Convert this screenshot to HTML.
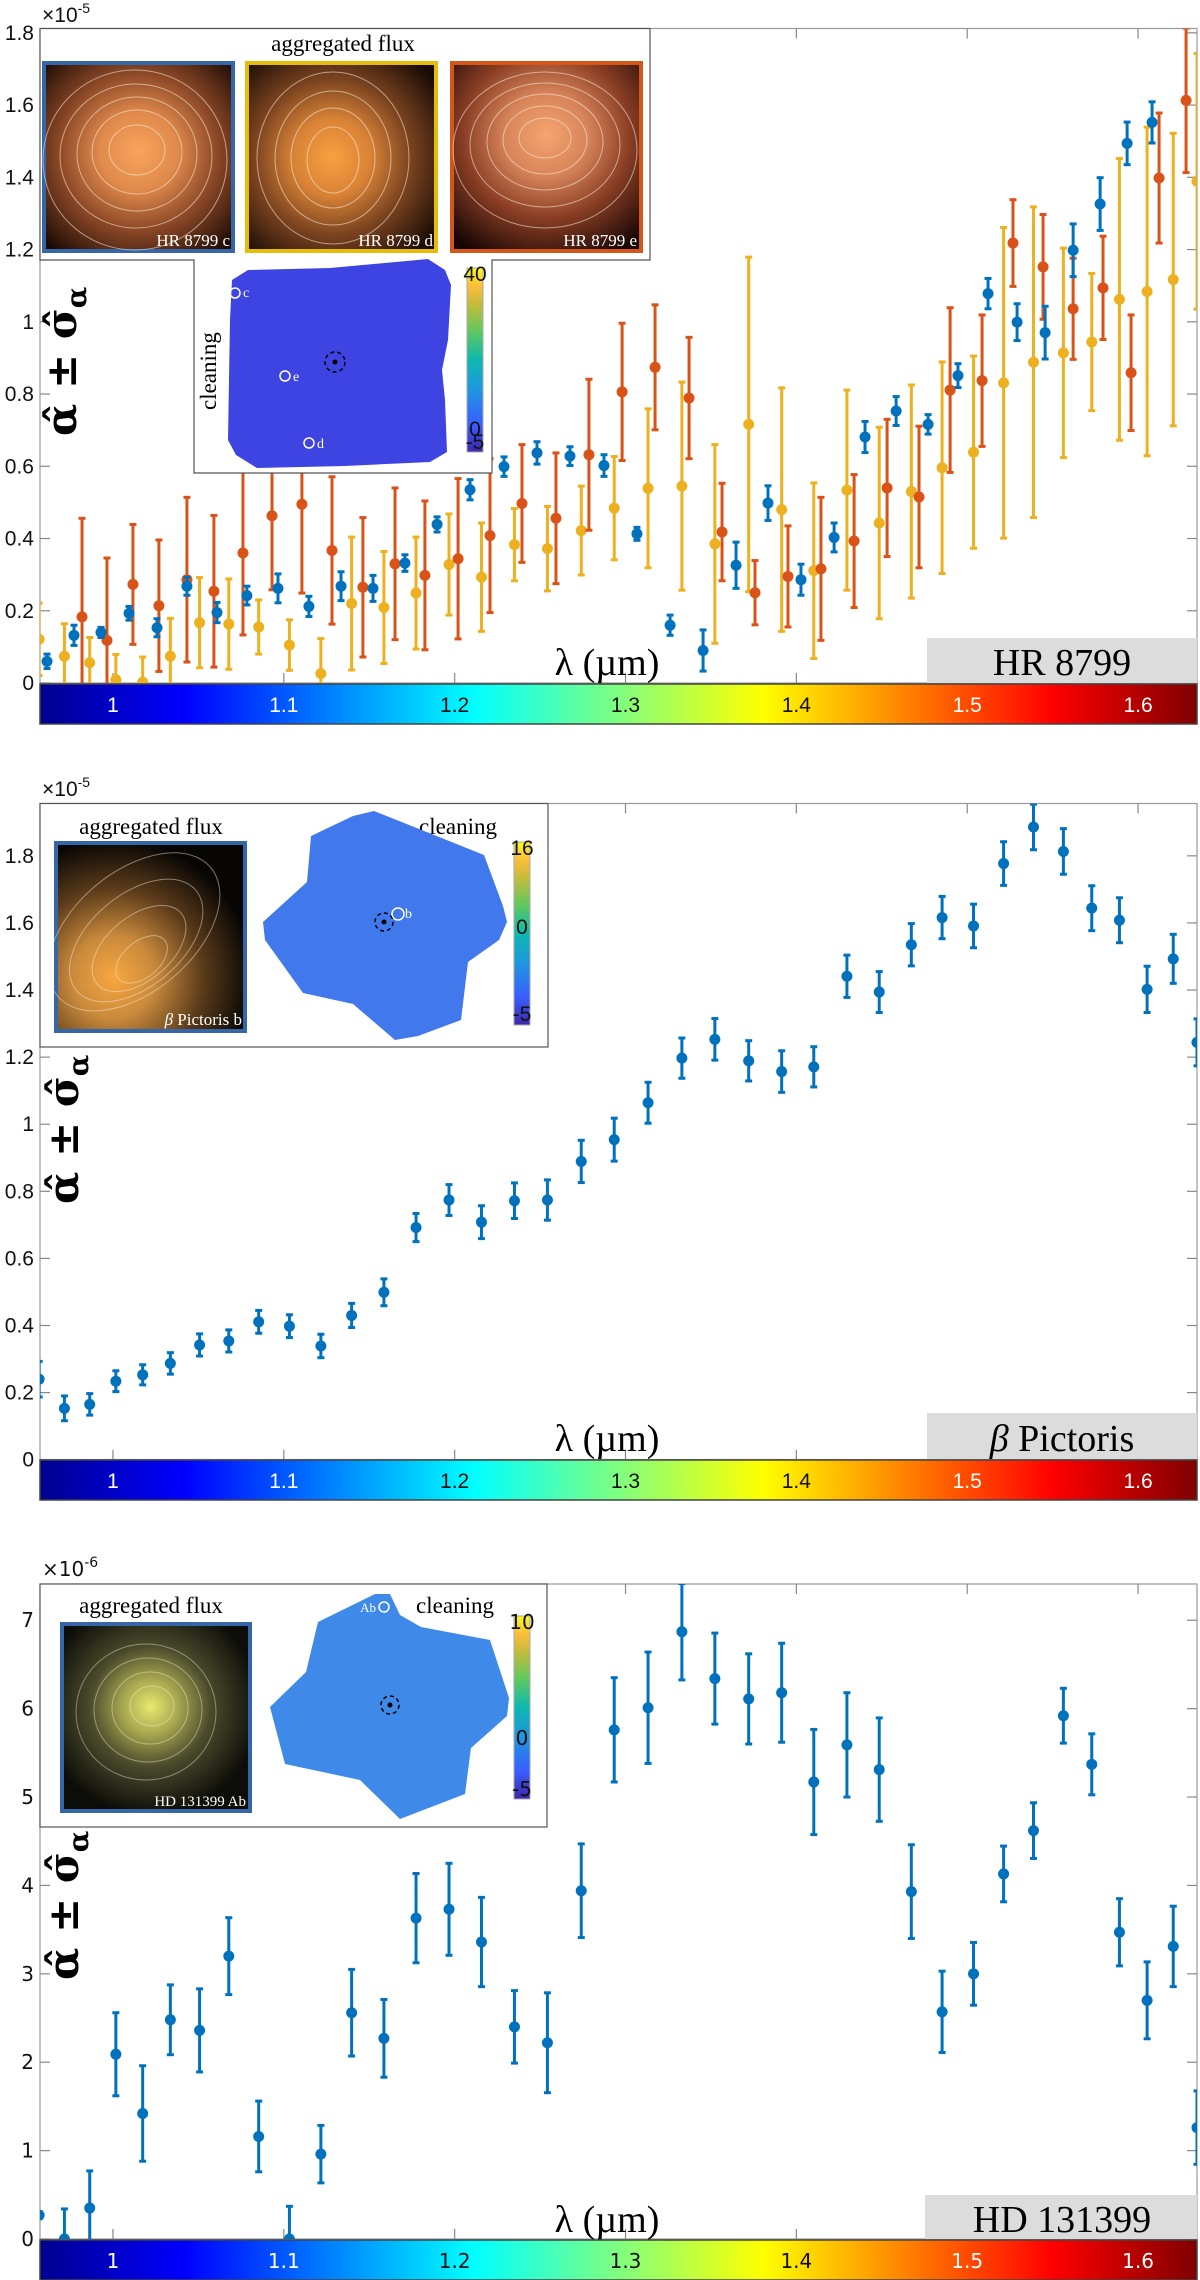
<!DOCTYPE html>
<html><head><meta charset="utf-8"><style>
html,body{margin:0;padding:0;background:#fff;}
svg{display:block;}
.tk{font-family:"Liberation Sans",sans-serif;font-size:21px;fill:#111;}
.tk3{font-family:"DejaVu Sans",sans-serif;font-size:20px;fill:#111;}
.sr{font-family:"Liberation Serif","DejaVu Serif",serif;}
</style></head><body>
<svg id="fig" width="1200" height="2280" viewBox="0 0 1200 2280" xmlns="http://www.w3.org/2000/svg">
<defs>
<linearGradient id="jet" x1="0" y1="0" x2="1" y2="0">
<stop offset="0" stop-color="#00008f"/><stop offset="0.125" stop-color="#0000ff"/><stop offset="0.375" stop-color="#00ffff"/><stop offset="0.625" stop-color="#ffff00"/><stop offset="0.875" stop-color="#ff0000"/><stop offset="1" stop-color="#800000"/>
</linearGradient>
<linearGradient id="parula" x1="0" y1="1" x2="0" y2="0">
<stop offset="0" stop-color="#3d26a8"/><stop offset="0.15" stop-color="#3a5efe"/><stop offset="0.35" stop-color="#1d99de"/><stop offset="0.5" stop-color="#0db8b0"/><stop offset="0.65" stop-color="#5cc862"/><stop offset="0.8" stop-color="#c3bc3a"/><stop offset="0.9" stop-color="#fbbc3c"/><stop offset="1" stop-color="#f9fb15"/>
</linearGradient>
<radialGradient id="glowC" cx="0.5" cy="0.47" r="0.7"><stop offset="0" stop-color="#f8a45c"/><stop offset="0.3" stop-color="#e08a4c"/><stop offset="0.6" stop-color="#8f4a28"/><stop offset="1" stop-color="#1c0a04"/></radialGradient>
<radialGradient id="glowD" cx="0.45" cy="0.5" r="0.7"><stop offset="0" stop-color="#f8a040"/><stop offset="0.3" stop-color="#d88236"/><stop offset="0.6" stop-color="#7c4420"/><stop offset="1" stop-color="#160904"/></radialGradient>
<radialGradient id="glowE" cx="0.5" cy="0.38" r="0.75"><stop offset="0" stop-color="#f7a470"/><stop offset="0.3" stop-color="#d7845a"/><stop offset="0.6" stop-color="#8a3e24"/><stop offset="1" stop-color="#140404"/></radialGradient>
<radialGradient id="glowB" cx="0.3" cy="0.72" r="0.75"><stop offset="0" stop-color="#f8a640"/><stop offset="0.3" stop-color="#c98a3c"/><stop offset="0.65" stop-color="#5a3a1a"/><stop offset="1" stop-color="#080604"/></radialGradient>
<radialGradient id="glowH" cx="0.47" cy="0.44" r="0.6"><stop offset="0" stop-color="#e8e870"/><stop offset="0.25" stop-color="#a8a850"/><stop offset="0.55" stop-color="#4a4a2c"/><stop offset="1" stop-color="#0c0c08"/></radialGradient>
</defs>

<!-- ===== Panel 1 static ===== -->
<g id="p1">
<rect x="40" y="28.5" width="1157" height="654.5" fill="#fff" stroke="#999" stroke-width="1.2"/>
<g id="p1-marks"></g>
<rect x="927" y="638" width="270" height="45" fill="#dcdcdc"/>
<text font-family="Liberation Serif, DejaVu Serif, serif" x="1062" y="675" font-size="38" text-anchor="middle">HR 8799</text>
<text font-family="Liberation Serif, DejaVu Serif, serif" x="607" y="675" font-size="38" text-anchor="middle">λ (µm)</text>
<text font-family="DejaVu Serif, serif" font-weight="bold" font-size="42" transform="translate(76,436) rotate(-90)">α̂ ± σ̂<tspan font-size="28" dy="10">α</tspan></text>
<text class="tk" x="42" y="22" font-size="20">×10<tspan font-size="14" dy="-9">-5</tspan></text>
<!-- inset -->
<path d="M40,28.5 H650 V260 H492 V473 H194 V260 H40 Z" fill="#fff" stroke="#555" stroke-width="1.2"/>
<text font-family="Liberation Serif, DejaVu Serif, serif" x="343" y="51" font-size="23" text-anchor="middle">aggregated flux</text>
<g>
<rect x="42" y="61" width="193" height="192" fill="#3466a8"/><rect x="46" y="65" width="185" height="184" fill="url(#glowC)"/>
<g fill="none" stroke="rgba(255,240,220,0.55)" stroke-width="1"><ellipse cx="137" cy="150" rx="28" ry="25"/><ellipse cx="137" cy="152" rx="45" ry="42"/><ellipse cx="137" cy="154" rx="60" ry="57"/><ellipse cx="136" cy="156" rx="76" ry="72"/><ellipse cx="135" cy="160" rx="92" ry="90"/></g>
<text font-family="Liberation Serif, DejaVu Serif, serif" x="230" y="246" font-size="17" fill="#fff" text-anchor="end">HR 8799 c</text></g>
<g>
<rect x="245" y="61" width="193" height="192" fill="#e3bd0a"/><rect x="249" y="65" width="185" height="184" fill="url(#glowD)"/>
<g fill="none" stroke="rgba(255,240,220,0.55)" stroke-width="1"><ellipse cx="333" cy="160" rx="26" ry="33"/><ellipse cx="333" cy="158" rx="42" ry="50"/><ellipse cx="333" cy="158" rx="58" ry="67"/><ellipse cx="333" cy="158" rx="76" ry="86"/></g>
<text font-family="Liberation Serif, DejaVu Serif, serif" x="433" y="246" font-size="17" fill="#fff" text-anchor="end">HR 8799 d</text></g>
<g>
<rect x="450" y="61" width="193" height="192" fill="#d4571a"/><rect x="454" y="65" width="185" height="184" fill="url(#glowE)"/>
<g fill="none" stroke="rgba(255,240,220,0.55)" stroke-width="1"><ellipse cx="545" cy="138" rx="26" ry="20"/><ellipse cx="545" cy="140" rx="42" ry="34"/><ellipse cx="545" cy="142" rx="58" ry="48"/><ellipse cx="545" cy="145" rx="75" ry="62"/><ellipse cx="545" cy="150" rx="92" ry="78"/></g>
<text font-family="Liberation Serif, DejaVu Serif, serif" x="637" y="246" font-size="17" fill="#fff" text-anchor="end">HR 8799 e</text></g>
<text font-family="Liberation Serif, DejaVu Serif, serif" font-size="23" transform="translate(216,410) rotate(-90)">cleaning</text>
<polygon points="248,270 330,268 428,259 445,270 451,285 448,340 442,370 445,400 447,452 430,462 345,466 257,468 236,455 228,440 230,320 232,280" fill="#3e44e2"/>
<g fill="none" stroke="#fff" stroke-width="1.5">
<circle cx="235" cy="293" r="5"/><circle cx="285" cy="376" r="5"/><circle cx="309" cy="443" r="5"/>
<circle cx="335" cy="362" r="10" stroke="#000" stroke-dasharray="4,3"/><circle cx="335" cy="362" r="2.5" fill="#000" stroke="none"/></g>
<text font-family="Liberation Serif, DejaVu Serif, serif" x="243" y="297" font-size="14" fill="#fff">c</text><text font-family="Liberation Serif, DejaVu Serif, serif" x="293" y="381" font-size="14" fill="#fff">e</text><text font-family="Liberation Serif, DejaVu Serif, serif" x="317" y="448" font-size="14" fill="#fff">d</text>
<rect x="467" y="268" width="16" height="184" fill="url(#parula)" stroke="#aaa"/>
<text class="tk" x="475" y="281" font-size="10" text-anchor="middle">40</text><text class="tk" x="475" y="436" font-size="10" text-anchor="middle">0</text><text class="tk" x="475" y="449" font-size="10" text-anchor="middle" fill="#fff">-5</text>
<rect x="40" y="684" width="1157" height="40" fill="url(#jet)" stroke="#444" stroke-width="1.5"/>
</g>

<!-- ===== Panel 2 static ===== -->
<g id="p2">
<rect x="40" y="803.5" width="1157" height="656" fill="#fff" stroke="#999" stroke-width="1.2"/>
<g id="p2-marks"></g>
<rect x="927" y="1413" width="270" height="46" fill="#dcdcdc"/>
<text font-family="Liberation Serif, DejaVu Serif, serif" x="1062" y="1451" font-size="38" text-anchor="middle"><tspan font-style="italic">β</tspan> Pictoris</text>
<text font-family="Liberation Serif, DejaVu Serif, serif" x="607" y="1451" font-size="38" text-anchor="middle">λ (µm)</text>
<text font-family="DejaVu Serif, serif" font-weight="bold" font-size="42" transform="translate(78,1204) rotate(-90)">α̂ ± σ̂<tspan font-size="28" dy="10">α</tspan></text>
<text class="tk" x="42" y="796" font-size="20">×10<tspan font-size="14" dy="-9">-5</tspan></text>
<rect x="40" y="803.5" width="508" height="243.5" fill="#fff" stroke="#555" stroke-width="1.2"/>
<text font-family="Liberation Serif, DejaVu Serif, serif" x="151" y="834" font-size="23" text-anchor="middle">aggregated flux</text>
<g>
<rect x="54" y="841" width="193" height="192" fill="#3466a8"/><rect x="58" y="845" width="185" height="184" fill="url(#glowB)"/>
<g fill="none" stroke="rgba(255,240,220,0.45)" stroke-width="1" transform="rotate(-40 130 930)"><ellipse cx="120" cy="960" rx="30" ry="18"/><ellipse cx="125" cy="950" rx="55" ry="32"/><ellipse cx="128" cy="942" rx="78" ry="46"/><ellipse cx="132" cy="934" rx="100" ry="60"/></g>
<text font-family="Liberation Serif, DejaVu Serif, serif" x="242" y="1025" font-size="17" fill="#fff" text-anchor="end"><tspan font-style="italic">β</tspan> Pictoris b</text></g>
<text font-family="Liberation Serif, DejaVu Serif, serif" x="458" y="834" font-size="23" text-anchor="middle">cleaning</text>
<polygon points="374,811 484,855 503,906 507,922 499,940 468,962 461,1020 418,1036 395,1040 353,1004 303,993 265,940 263,922 307,882 311,836 353,816" fill="#4178ec"/>
<circle cx="398" cy="914" r="6" fill="none" stroke="#fff" stroke-width="1.5"/><text font-family="Liberation Serif, DejaVu Serif, serif" x="405" y="918" font-size="14" fill="#fff">b</text>
<circle cx="384" cy="922" r="9" fill="none" stroke="#000" stroke-width="1.5" stroke-dasharray="4,3"/><circle cx="384" cy="922" r="2.5" fill="#000"/>
<rect x="514" y="842" width="16" height="183" fill="url(#parula)" stroke="#aaa"/>
<text class="tk" x="522" y="855" font-size="10" text-anchor="middle">16</text><text class="tk" x="522" y="934" font-size="10" text-anchor="middle">0</text><text class="tk" x="522" y="1021" font-size="10" text-anchor="middle" fill="#fff">-5</text>
<rect x="40" y="1460" width="1157" height="40" fill="url(#jet)" stroke="#444" stroke-width="1.5"/>
</g>

<!-- ===== Panel 3 static ===== -->
<g id="p3">
<rect x="40" y="1584" width="1157" height="655" fill="#fff" stroke="#999" stroke-width="1.2"/>
<g id="p3-marks"></g>
<rect x="925" y="2195" width="272" height="44" fill="#dcdcdc"/>
<text font-family="Liberation Serif, DejaVu Serif, serif" x="1062" y="2232" font-size="38" text-anchor="middle">HD 131399</text>
<text font-family="Liberation Serif, DejaVu Serif, serif" x="607" y="2232" font-size="38" text-anchor="middle">λ (µm)</text>
<text font-family="DejaVu Serif, serif" font-weight="bold" font-size="42" transform="translate(78,1980) rotate(-90)">α̂ ± σ̂<tspan font-size="28" dy="10">α</tspan></text>
<text class="tk3" x="42" y="1576" font-size="20">×10<tspan font-size="14" dy="-9">-6</tspan></text>
<rect x="40" y="1584" width="507" height="243" fill="#fff" stroke="#555" stroke-width="1.2"/>
<text font-family="Liberation Serif, DejaVu Serif, serif" x="151" y="1613" font-size="23" text-anchor="middle">aggregated flux</text>
<g>
<rect x="60" y="1622" width="192" height="191" fill="#3466a8"/><rect x="64" y="1626" width="184" height="183" fill="url(#glowH)"/>
<g fill="none" stroke="rgba(255,255,230,0.4)" stroke-width="1"><ellipse cx="152" cy="1706" rx="22" ry="20"/><ellipse cx="150" cy="1708" rx="38" ry="36"/><ellipse cx="148" cy="1710" rx="54" ry="52"/><ellipse cx="146" cy="1712" rx="70" ry="68"/></g>
<text font-family="Liberation Serif, DejaVu Serif, serif" x="246" y="1806" font-size="15" fill="#fff" text-anchor="end">HD 131399 Ab</text></g>
<text font-family="Liberation Serif, DejaVu Serif, serif" x="455" y="1613" font-size="23" text-anchor="middle">cleaning</text>
<polygon points="318,1622 375,1594 390,1594 400,1615 421,1627 490,1640 509,1698 507,1716 471,1748 465,1794 400,1819 360,1780 285,1764 270,1707 306,1672" fill="#3f8ae8"/>
<circle cx="384" cy="1607" r="5" fill="none" stroke="#fff" stroke-width="1.5"/><text font-family="Liberation Serif, DejaVu Serif, serif" x="376" y="1612" font-size="13" fill="#fff" text-anchor="end">Ab</text>
<circle cx="390" cy="1705" r="9" fill="none" stroke="#000" stroke-width="1.5" stroke-dasharray="4,3"/><circle cx="390" cy="1705" r="2.5" fill="#000"/>
<rect x="514" y="1616" width="16" height="183" fill="url(#parula)" stroke="#aaa"/>
<text class="tk3" x="522" y="1629" font-size="10" text-anchor="middle">10</text><text class="tk3" x="522" y="1745" font-size="10" text-anchor="middle">0</text><text class="tk3" x="522" y="1796" font-size="10" text-anchor="middle" fill="#fff">-5</text>
<rect x="40" y="2240" width="1157" height="40" fill="url(#jet)" stroke="#444" stroke-width="1.5"/>
</g>
</svg>
<script>
// ---------- shared wavelength grid (µm) ----------
const gridLambda = [0.9568,0.9716,0.9864,1.0017,1.0174,1.0336,1.0507,1.0678,1.0853,1.1033,1.1217,1.1397,1.1586,1.1774,1.1967,1.2157,1.2350,1.2543,1.2741,1.2934,1.3132,1.3330,1.3523,1.3721,1.3914,1.4102,1.4296,1.4485,1.4673,1.4853,1.5037,1.5213,1.5388,1.5563,1.5729,1.5891,1.6053,1.6206,1.6345];
const xTickValues = [1.0,1.1,1.2,1.3,1.4,1.5,1.6];
const xTickLabels = ["1","1.1","1.2","1.3","1.4","1.5","1.6"];
// ---------- HR 8799 (x1e-5) ----------
const hrLambdaC = [0.9614,0.9772,0.9930,1.0094,1.0258,1.0433,1.0609,1.0784,1.0966,1.1147,1.1335,1.1522,1.1709,1.1897,1.2090,1.2289,1.2482,1.2675,1.2874,1.3067,1.3261,1.3454,1.3647,1.3834,1.4027,1.4221,1.4402,1.4584,1.4771,1.4946,1.5122,1.5292,1.5456,1.5620,1.5778,1.5936,1.6082];
const hrAlphaC = [0.06,0.132,0.14,0.193,0.153,0.268,0.195,0.242,0.262,0.212,0.268,0.262,0.332,0.439,0.535,0.599,0.637,0.628,0.602,0.413,0.16,0.09,0.326,0.498,0.286,0.403,0.681,0.753,0.716,0.851,1.078,0.999,0.970,1.198,1.326,1.494,1.552];
const hrErrC = [0.02,0.028,0.014,0.019,0.025,0.025,0.028,0.026,0.04,0.028,0.04,0.036,0.023,0.021,0.028,0.027,0.031,0.026,0.03,0.018,0.028,0.057,0.064,0.048,0.043,0.04,0.043,0.04,0.027,0.033,0.042,0.051,0.073,0.073,0.073,0.059,0.057];
const hrLambdaD = gridLambda;
const hrAlphaD = [0.121,0.074,0.056,0.009,0.002,0.074,0.167,0.163,0.155,0.105,0.026,0.22,0.209,0.249,0.328,0.293,0.383,0.372,0.422,0.484,0.539,0.545,0.385,0.716,0.48,0.311,0.534,0.443,0.53,0.596,0.639,0.831,0.888,0.914,0.944,1.062,1.084,1.117,1.389];
const hrErrD = [0.10,0.09,0.07,0.07,0.07,0.105,0.125,0.125,0.075,0.07,0.097,0.184,0.155,0.155,0.14,0.15,0.10,0.117,0.123,0.143,0.22,0.288,0.275,0.463,0.337,0.243,0.277,0.265,0.295,0.293,0.266,0.43,0.43,0.29,0.19,0.39,0.455,0.405,0.354];
const hrLambdaE = [0.9819,0.9965,1.0117,1.0269,1.0433,1.0591,1.0761,1.0931,1.1106,1.1282,1.1463,1.1651,1.1826,1.2020,1.2207,1.2394,1.2593,1.2786,1.2980,1.3173,1.3372,1.3565,1.3758,1.3951,1.4144,1.4338,1.4531,1.4718,1.4900,1.5087,1.5268,1.5444,1.5620,1.5795,1.5959,1.6123,1.6281];
const hrAlphaE = [0.183,0.118,0.273,0.214,0.286,0.254,0.36,0.463,0.495,0.367,0.265,0.33,0.298,0.344,0.408,0.497,0.456,0.632,0.806,0.874,0.789,0.418,0.25,0.295,0.316,0.393,0.54,0.515,0.811,0.837,1.218,1.152,1.036,1.094,0.859,1.398,1.613];
const hrErrE = [0.273,0.228,0.166,0.182,0.228,0.21,0.227,0.205,0.246,0.204,0.193,0.21,0.206,0.222,0.213,0.163,0.181,0.209,0.19,0.173,0.168,0.135,0.089,0.14,0.198,0.184,0.19,0.196,0.228,0.182,0.12,0.145,0.14,0.143,0.16,0.18,0.2];
const hrYTicks = [0,0.2,0.4,0.6,0.8,1,1.2,1.4,1.6,1.8];
const hrYTickLabels = ["0","0.2","0.4","0.6","0.8","1","1.2","1.4","1.6","1.8"];
// ---------- beta Pictoris (x1e-5) ----------
const bpAlpha = [0.24,0.153,0.165,0.234,0.253,0.287,0.342,0.354,0.411,0.398,0.339,0.43,0.499,0.692,0.774,0.708,0.772,0.774,0.889,0.954,1.064,1.197,1.253,1.189,1.157,1.171,1.441,1.394,1.535,1.616,1.591,1.777,1.886,1.813,1.644,1.608,1.402,1.493,1.244];
const bpErr = [0.053,0.037,0.032,0.031,0.03,0.032,0.033,0.033,0.034,0.034,0.035,0.036,0.04,0.042,0.046,0.049,0.053,0.06,0.063,0.064,0.061,0.06,0.062,0.06,0.062,0.06,0.063,0.061,0.063,0.063,0.065,0.065,0.068,0.068,0.067,0.067,0.069,0.073,0.07];
const bpYTicks = [0,0.2,0.4,0.6,0.8,1,1.2,1.4,1.6,1.8];
const bpYTickLabels = ["0","0.2","0.4","0.6","0.8","1","1.2","1.4","1.6","1.8"];
// ---------- HD 131399 (x1e-6) ----------
const hdAlpha = [0.27,0,0.35,2.09,1.42,2.48,2.36,3.2,1.16,0,0.96,2.56,2.27,3.63,3.73,3.36,2.40,2.22,3.94,5.76,6.01,6.87,6.34,6.11,6.18,5.17,5.59,5.31,3.93,2.57,3.00,4.13,4.62,5.92,5.37,3.47,2.70,3.31,1.26];
const hdErr = [0.04,0.34,0.42,0.47,0.54,0.395,0.47,0.435,0.40,0.37,0.325,0.49,0.44,0.505,0.52,0.505,0.41,0.565,0.53,0.59,0.63,0.545,0.515,0.51,0.56,0.595,0.59,0.585,0.53,0.46,0.355,0.315,0.315,0.31,0.345,0.38,0.435,0.455,0.415];
const hdYTicks = [0,1,2,3,4,5,6,7];
const hdYTickLabels = ["0","1","2","3","4","5","6","7"];

const NS = "http://www.w3.org/2000/svg";
const X0 = 40, X1 = 1197, LMIN = 0.9573, LMAX = 1.6345;
function xScale(l){ return X0 + (l - LMIN) / (LMAX - LMIN) * (X1 - X0); }
function mk(tag, attrs, parent){ const e = document.createElementNS(NS, tag); for (const k in attrs) e.setAttribute(k, attrs[k]); parent.appendChild(e); return e; }

const panels = [
  {id:"p1", top:28.5, bottom:683, vmax:1.812, ticks:hrYTicks, labels:hrYTickLabels, cls:"tk", cbY:684},
  {id:"p2", top:803.5, bottom:1459.7, vmax:1.956, ticks:bpYTicks, labels:bpYTickLabels, cls:"tk", cbY:1460},
  {id:"p3", top:1584, bottom:2239, vmax:7.41, ticks:hdYTicks, labels:hdYTickLabels, cls:"tk3", cbY:2240}
];
panels.forEach(function(p){
  p.y = function(v){ return p.bottom - v / p.vmax * (p.bottom - p.top); };
  const svg = document.getElementById("fig");
  const g = document.getElementById(p.id + "-marks");
  const cp = mk("clipPath", {id: p.id + "-clip"}, svg.querySelector("defs"));
  mk("rect", {x: X0, y: p.top, width: X1 - X0, height: p.bottom - p.top}, cp);
  g.setAttribute("clip-path", "url(#" + p.id + "-clip)");
  const root = document.getElementById(p.id);
  const ax = mk("g", {stroke: "#888", "stroke-width": 1.2}, root);
  
  
  root.insertBefore(ax, g);
  p.ticks.forEach(function(t, i){
    const yy = p.y(t);
    mk("line", {x1: X0, x2: X0 + 10, y1: yy, y2: yy}, ax);
    mk("line", {x1: X1 - 10, x2: X1, y1: yy, y2: yy}, ax);
    const lab = mk("text", {x: 34, y: yy + 7, "text-anchor": "end", "class": p.cls}, root);
    
    
    lab.textContent = p.labels[i];
  });
  xTickValues.forEach(function(t, i){
    const xx = xScale(t);
    mk("line", {x1: xx, x2: xx, y1: p.top, y2: p.top + 10}, ax);
    mk("line", {x1: xx, x2: xx, y1: p.bottom - 10, y2: p.bottom}, ax);
    const dark = (t >= 1.2 && t <= 1.4);
    const lab = mk("text", {x: xx, y: p.cbY + 28, "text-anchor": "middle", "class": p.cls}, root);
    
    
    lab.style.fill = dark ? "#111" : "#fff";
    lab.textContent = xTickLabels[i];
  });
});

function drawSeries(p, lams, vals, errs, color, name, r, lw, cap){
  const g = document.getElementById(p.id + "-marks");
  const sg = mk("g", {stroke: color, fill: color, "stroke-width": lw}, g);
  
  
  for (let i = 0; i < vals.length; i++){
    const xx = xScale(lams[i]);
    const y1 = p.y(vals[i] - errs[i]), y2 = p.y(vals[i] + errs[i]), yc = p.y(vals[i]);
    const eb = mk("g", {}, sg);
    
    
    mk("line", {x1: xx, x2: xx, y1: y1, y2: y2}, eb);
    mk("line", {x1: xx - cap, x2: xx + cap, y1: y1, y2: y1}, eb);
    mk("line", {x1: xx - cap, x2: xx + cap, y1: y2, y2: y2}, eb);
    mk("circle", {cx: xx, cy: yc, r: r, stroke: "none"}, eb);
  }
}
drawSeries(panels[0], hrLambdaD, hrAlphaD, hrErrD, "#EDB120", "hr8799-d-series", 5.5, 3, 3.5);
drawSeries(panels[0], hrLambdaE, hrAlphaE, hrErrE, "#D95319", "hr8799-e-series", 5.5, 3, 3.5);
drawSeries(panels[0], hrLambdaC, hrAlphaC, hrErrC, "#0072BD", "hr8799-c-series", 5.5, 3, 3.5);
drawSeries(panels[1], gridLambda, bpAlpha, bpErr, "#0072BD", "betapic-b-series", 5.5, 3, 3.5);
drawSeries(panels[2], gridLambda, hdAlpha, hdErr, "#0072BD", "hd131399-ab-series", 5.5, 3, 3.5);
</script>
</body></html>
